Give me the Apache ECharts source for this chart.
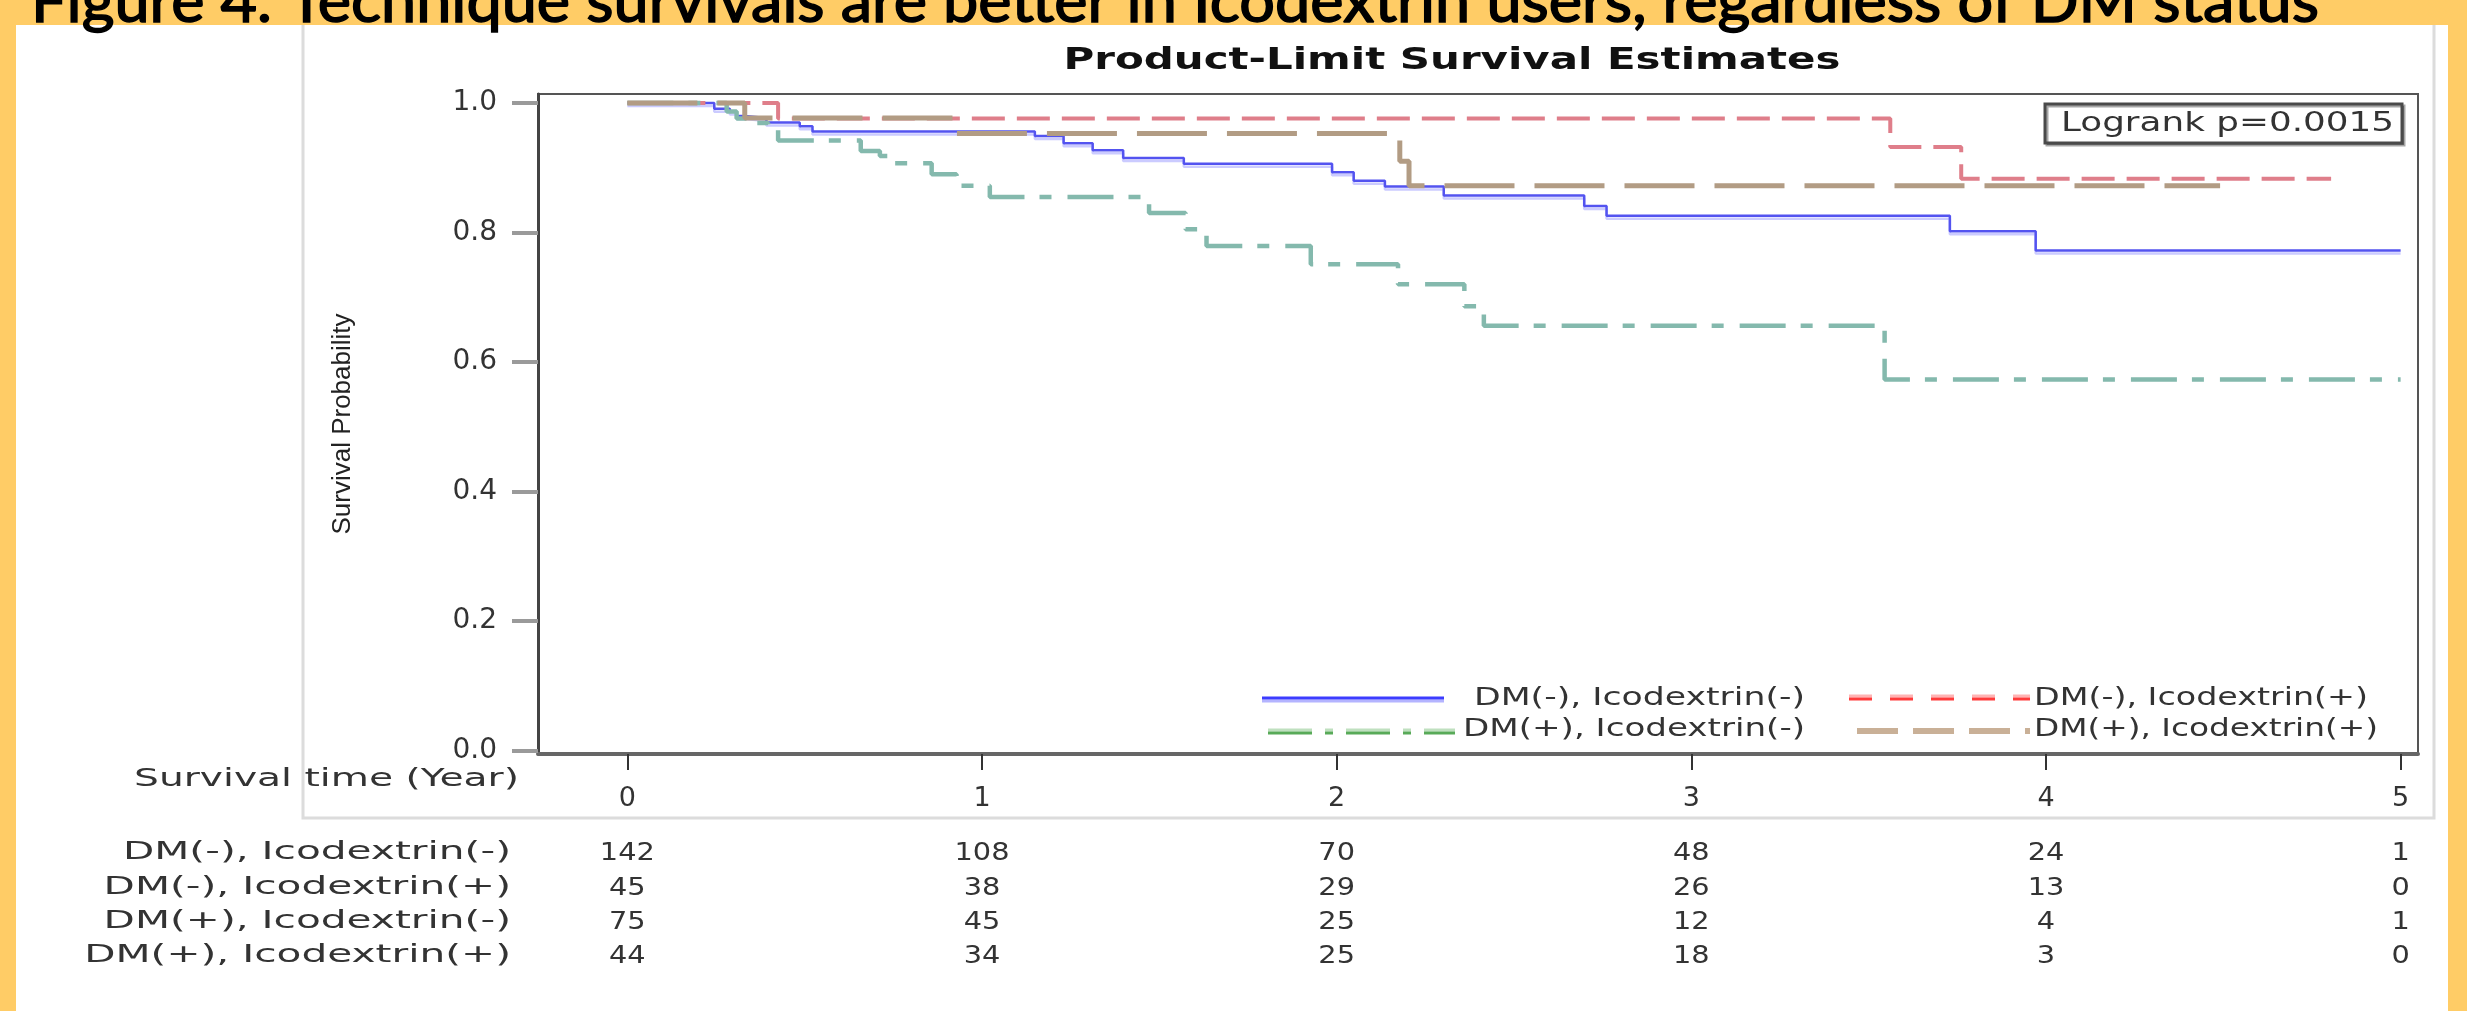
<!DOCTYPE html>
<html><head><meta charset="utf-8">
<script src="https://cdn.jsdelivr.net/npm/echarts@6/dist/echarts.min.js"></script>
<style>html,body{margin:0;padding:0;background:#ffcc66;}#c{width:2467px;height:1011px;}</style>
</head><body><div id="c"></div>
<script>
// ---------------- DATA ----------------
const groupNames = ['DM(-), Icodextrin(-)', 'DM(-), Icodextrin(+)', 'DM(+), Icodextrin(-)', 'DM(+), Icodextrin(+)'];

const timeDMnIcon = [0, 0.245, 0.289, 0.308, 0.331, 0.392, 0.486, 0.522, 1.149, 1.230, 1.312, 1.398, 1.569, 1.987, 2.048, 2.136, 2.302, 2.698, 2.761, 3.729, 3.971, 5.0];
const survDMnIcon = [1.0, 0.991, 0.987, 0.980, 0.977, 0.970, 0.964, 0.956, 0.949, 0.938, 0.927, 0.915, 0.906, 0.893, 0.880, 0.871, 0.857, 0.841, 0.826, 0.802, 0.772, 0.772];

const timeDMnIcop = [0, 0.425, 3.561, 3.761, 4.804];
const survDMnIcop = [1.0, 0.976, 0.932, 0.883, 0.883];

const timeDMpIcon = [0, 0.280, 0.308, 0.336, 0.397, 0.425, 0.658, 0.712, 0.750, 0.858, 0.928, 1.022, 1.471, 1.574, 1.633, 1.927, 2.173, 2.360, 2.415, 3.545, 5.0];
const survDMpIcon = [1.0, 0.987, 0.976, 0.969, 0.961, 0.942, 0.926, 0.918, 0.907, 0.890, 0.872, 0.855, 0.830, 0.805, 0.779, 0.751, 0.720, 0.686, 0.656, 0.573, 0.573];

const timeDMpIcop = [0, 0.331, 0.928, 2.178, 2.204, 4.491];
const survDMpIcop = [1.0, 0.977, 0.953, 0.910, 0.872, 0.872];

const xTickValues = [0, 1, 2, 3, 4, 5];
const xTickLabels = ['0', '1', '2', '3', '4', '5'];
const yTickValues = [0, 0.2, 0.4, 0.6, 0.8, 1.0];
const yTickLabels = ['0.0', '0.2', '0.4', '0.6', '0.8', '1.0'];

const riskDMnIcon = [142, 108, 70, 48, 24, 1];
const riskDMnIcop = [45, 38, 29, 26, 13, 0];
const riskDMpIcon = [75, 45, 25, 12, 4, 1];
const riskDMpIcop = [44, 34, 25, 18, 3, 0];

const bannerText = 'Figure 4. Technique survivals are better in Icodextrin users, regardless of DM status';
const titleText = 'Product-Limit Survival Estimates';
const logrankText = 'Logrank p=0.0015';
const xAxisTitle = 'Survival time (Year)';
const yAxisTitle = 'Survival Probability';

// ---------------- STYLES ----------------
const times = [timeDMnIcon, timeDMnIcop, timeDMpIcon, timeDMpIcop];
const survs = [survDMnIcon, survDMnIcop, survDMpIcon, survDMpIcop];
const risks = [riskDMnIcon, riskDMnIcop, riskDMpIcon, riskDMpIcop];
const lineStyles = [
  {color: '#5353f0', width: 2.5, type: 'solid', shadowColor: 'rgba(140,140,255,0.45)', shadowOffsetY: 3, shadowBlur: 0},
  {color: '#df7e8a', width: 4, type: [33, 12]},
  {color: '#84b9ad', width: 4.5, type: [46, 15, 12, 16]},
  {color: '#b29c84', width: 5, type: [70, 20]}
];

const canvas = document.createElement('canvas');
const ctx = canvas.getContext('2d');
function measure(text, font) { ctx.font = font; return ctx.measureText(text).width; }
function txt(text, x, y, font, targetW, align, color, extra) {
  const s = targetW ? targetW / measure(text, font) : 1;
  return Object.assign({
    type: 'text', x: x, y: y, scaleX: s, z: 20, silent: true,
    style: {text: text, font: font, fill: color || '#333', align: align || 'left', textAlign: align || 'left',
            verticalAlign: 'middle', textVerticalAlign: 'middle'}
  }, extra || {});
}

const chart = echarts.init(document.getElementById('c'), null, {renderer: 'canvas'});

const series = groupNames.map((name, i) => ({
  name: name, type: 'line', step: 'end', symbol: 'none', showSymbol: false,
  data: times[i].map((t, j) => [t, survs[i][j]]),
  lineStyle: lineStyles[i], z: 3 + i, silent: true
}));

chart.setOption({
  backgroundColor: '#ffcc66',
  animation: false,
  grid: {left: 538, top: 94, width: 1880, height: 660, show: true, borderColor: '#555', borderWidth: 2, backgroundColor: '#fff'},
  xAxis: {
    type: 'value', min: -0.252, max: 5.049,
    axisLine: {show: true, onZero: false, lineStyle: {color: '#666', width: 4}},
    axisTick: {show: true, customValues: xTickValues, length: 16, lineStyle: {color: '#333', width: 2}},
    axisLabel: {show: true, customValues: xTickValues, margin: 31, fontSize: 27, fontFamily: 'DejaVu Sans', color: '#333',
      formatter: v => xTickLabels[xTickValues.indexOf(Math.round(v))]},
    splitLine: {show: false}
  },
  yAxis: {
    type: 'value', min: -0.0055, max: 1.0139,
    axisLine: {show: true, onZero: false, lineStyle: {color: '#444', width: 3}},
    axisTick: {show: true, customValues: yTickValues, length: 26, lineStyle: {color: '#9a9a9a', width: 4}},
    axisLabel: {show: true, customValues: yTickValues, margin: 41, fontSize: 28, fontFamily: 'DejaVu Sans', color: '#333',
      formatter: v => yTickLabels[Math.round(v * 5)]},
    splitLine: {show: false},
    name: yAxisTitle, nameLocation: 'middle', nameGap: 182, nameRotate: 90,
    nameTextStyle: {fontSize: 26, fontFamily: 'Liberation Sans', color: '#222'}
  },
  series: series
});

// ---------------- DECORATION / TEXT ----------------
const g = [];
g.push({type: 'rect', shape: {x: 16, y: 25, width: 2432, height: 986}, style: {fill: '#fff'}, z: -10, silent: true});
g.push({type: 'polyline', shape: {points: [[303, 25], [303, 818], [2434, 818], [2434, 25]]}, style: {stroke: '#dcdcdc', lineWidth: 3, fill: null}, z: -5, silent: true});
const banner = txt(bannerText, 31, 3, "60px Lato", 2288, 'left', '#000');
banner.style.stroke = '#000';
banner.style.lineWidth = 1.5;
g.push(banner);
g.push(txt(titleText, 1452, 61, "bold 30px 'DejaVu Sans'", 777, 'center', '#111'));
g.push({type: 'rect', shape: {x: 2045, y: 104, width: 357, height: 39}, style: {fill: '#fff', stroke: '#4a4a4a', lineWidth: 3, shadowColor: 'rgba(0,0,0,0.35)', shadowOffsetX: 2, shadowOffsetY: 2, shadowBlur: 0}, z: 15, silent: true});
g.push(txt(logrankText, 2061, 124, "26px 'DejaVu Sans'", 333, 'left', '#333'));
g.push({type: 'line', shape: {x1: 1262, y1: 701, x2: 1444, y2: 701}, style: {stroke: '#b4b4ff', lineWidth: 3}, z: 15, silent: true});
g.push({type: 'line', shape: {x1: 1262, y1: 698, x2: 1444, y2: 698}, style: {stroke: '#3c3cff', lineWidth: 3}, z: 16, silent: true});
g.push({type: 'line', shape: {x1: 1849, y1: 696, x2: 2030, y2: 696}, style: {stroke: '#ffb3b3', lineWidth: 3, lineDash: [23, 18]}, z: 15, silent: true});
g.push({type: 'line', shape: {x1: 1849, y1: 699, x2: 2030, y2: 699}, style: {stroke: '#ff3b3b', lineWidth: 3, lineDash: [23, 18]}, z: 16, silent: true});
g.push({type: 'line', shape: {x1: 1268, y1: 730, x2: 1455, y2: 730}, style: {stroke: '#bfe0bf', lineWidth: 3, lineDash: [44, 13, 8, 13]}, z: 15, silent: true});
g.push({type: 'line', shape: {x1: 1268, y1: 733, x2: 1455, y2: 733}, style: {stroke: '#58aa58', lineWidth: 3, lineDash: [44, 13, 8, 13]}, z: 16, silent: true});
g.push({type: 'line', shape: {x1: 1857, y1: 731, x2: 2030, y2: 731}, style: {stroke: '#c9b097', lineWidth: 6, lineDash: [41, 15]}, z: 16, silent: true});
const legFont = "24px 'DejaVu Sans'";
g.push(txt(groupNames[0], 1474, 699, legFont, 331, 'left', '#333'));
g.push(txt(groupNames[1], 2034, 699, legFont, 334, 'left', '#333'));
g.push(txt(groupNames[2], 1463, 730, legFont, 342, 'left', '#333'));
g.push(txt(groupNames[3], 2034, 730, legFont, 344, 'left', '#333'));
g.push(txt(xAxisTitle, 519, 780, "24px 'DejaVu Sans'", 385, 'right', '#333'));
const rowY = [853, 888, 922, 956];
const tabFont = "24px 'DejaVu Sans'";
const labScale = 388 / measure(groupNames[0], tabFont);
const numFont = "25px 'DejaVu Sans'";
const numScale = 55 / measure('142', numFont);
groupNames.forEach((name, i) => {
  g.push(Object.assign(txt(name, 511, rowY[i], tabFont, 0, 'right', '#333'), {scaleX: labScale}));
  risks[i].forEach((n, j) => {
    const px = chart.convertToPixel({xAxisIndex: 0}, xTickValues[j]);
    g.push(Object.assign(txt(String(n), px, rowY[i], numFont, 0, 'center', '#333'), {scaleX: numScale}));
  });
});
chart.setOption({graphic: {elements: g}});
</script></body></html>
